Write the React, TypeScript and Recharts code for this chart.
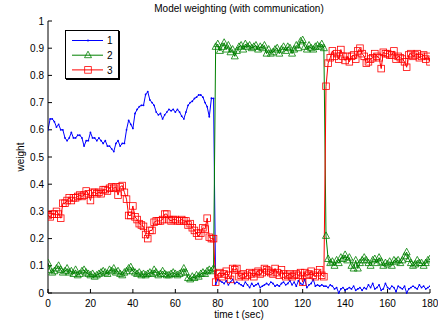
import React from 'react';
import { LineChart, Line, XAxis, YAxis, Legend } from 'recharts';

const times: number[] = Array.from({ length: 181 }, (_, i) => i);

const model1: number[] = [
  0.60, 0.64, 0.64, 0.63, 0.61, 0.62, 0.60, 0.60, 0.57, 0.56,
  0.57, 0.59, 0.57, 0.57, 0.58, 0.58, 0.57, 0.54, 0.56, 0.56,
  0.59, 0.57, 0.57, 0.56, 0.57, 0.56, 0.55, 0.56, 0.54, 0.54,
  0.53, 0.52, 0.55, 0.56, 0.54, 0.55, 0.55, 0.60, 0.635, 0.62,
  0.605, 0.66, 0.675, 0.685, 0.69, 0.69, 0.73, 0.74, 0.71, 0.70,
  0.69, 0.665, 0.655, 0.66, 0.64, 0.655, 0.665, 0.675, 0.67, 0.675,
  0.665, 0.675, 0.665, 0.65, 0.64, 0.665, 0.69, 0.70, 0.705, 0.715,
  0.72, 0.728, 0.728, 0.72, 0.70, 0.685, 0.648, 0.716, 0.715, 0.03,
  0.05, 0.045, 0.04, 0.035, 0.045, 0.03, 0.04, 0.05, 0.035, 0.04,
  0.035, 0.03, 0.025, 0.04, 0.03, 0.02, 0.035, 0.025, 0.03, 0.035,
  0.02, 0.025, 0.03, 0.035, 0.03, 0.04, 0.035, 0.025, 0.03, 0.025,
  0.035, 0.04, 0.03, 0.035, 0.045, 0.03, 0.04, 0.025, 0.045, 0.035,
  0.03, 0.05, 0.02, 0.03, 0.035, 0.05, 0.025, 0.03, 0.025, 0.03,
  0.025, 0.025, 0.02, 0.03, 0.025, 0.015, 0.02, 0.0, 0.015, 0.02,
  0.01, 0.015, 0.02, 0.015, 0.025, 0.01, 0.015, 0.02, 0.01, 0.02,
  0.015, 0.03, 0.02, 0.035, 0.015, 0.02, 0.03, 0.01, 0.015, 0.035,
  0.02, 0.015, 0.025, 0.02, 0.005, 0.025, 0.02, 0.015, 0.025, 0.0,
  0.015, 0.02, 0.025, 0.02, 0.015, 0.03, 0.02, 0.025, 0.015, 0.02,
  0.025,
];

const model2: number[] = [
  0.11, 0.085, 0.075, 0.08, 0.09, 0.10, 0.085, 0.075, 0.08, 0.09,
  0.075, 0.08, 0.07, 0.085, 0.065, 0.07, 0.08, 0.085, 0.075, 0.07,
  0.065, 0.07, 0.06, 0.065, 0.07, 0.075, 0.08, 0.075, 0.07, 0.085,
  0.08, 0.09, 0.075, 0.08, 0.07, 0.065, 0.075, 0.08, 0.09, 0.095,
  0.08, 0.075, 0.07, 0.075, 0.065, 0.07, 0.065, 0.07, 0.075, 0.07,
  0.085, 0.075, 0.065, 0.07, 0.08, 0.07, 0.065, 0.065, 0.07, 0.075,
  0.07, 0.065, 0.07, 0.075, 0.09, 0.075, 0.055, 0.05, 0.06, 0.055,
  0.065, 0.06, 0.07, 0.075, 0.07, 0.08, 0.085, 0.08, 0.09, 0.905,
  0.915, 0.89, 0.905, 0.92, 0.895, 0.91, 0.885, 0.895, 0.87, 0.89,
  0.905, 0.91, 0.895, 0.915, 0.905, 0.91, 0.90, 0.905, 0.91, 0.895,
  0.905, 0.90, 0.91, 0.88, 0.895, 0.88, 0.885, 0.895, 0.90, 0.88,
  0.895, 0.905, 0.89, 0.905, 0.90, 0.88, 0.895, 0.91, 0.90, 0.925,
  0.93, 0.905, 0.895, 0.91, 0.90, 0.895, 0.905, 0.91, 0.905, 0.915,
  0.90, 0.21, 0.125, 0.11, 0.115, 0.10, 0.12, 0.11, 0.13, 0.125,
  0.14, 0.12, 0.13, 0.10, 0.09, 0.12, 0.09, 0.11, 0.12, 0.13,
  0.12, 0.11, 0.10, 0.12, 0.125, 0.11, 0.13, 0.115, 0.10, 0.11,
  0.105, 0.115, 0.10, 0.12, 0.115, 0.12, 0.11, 0.12, 0.135, 0.15,
  0.125, 0.11, 0.10, 0.105, 0.12, 0.11, 0.11, 0.10, 0.11, 0.12,
  0.125,
];

const model3: number[] = [
  0.285, 0.28, 0.29, 0.29, 0.30, 0.29, 0.275, 0.33, 0.33, 0.34,
  0.35, 0.34, 0.35, 0.35, 0.355, 0.36, 0.355, 0.36, 0.375, 0.365,
  0.34, 0.37, 0.37, 0.365, 0.37, 0.365, 0.38, 0.38, 0.375, 0.385,
  0.39, 0.385, 0.39, 0.36, 0.39, 0.395, 0.37, 0.345, 0.285, 0.285,
  0.32, 0.28, 0.27, 0.255, 0.25, 0.245, 0.215, 0.20, 0.23, 0.23,
  0.26, 0.265, 0.265, 0.265, 0.27, 0.29, 0.29, 0.27, 0.265, 0.27,
  0.27, 0.265, 0.265, 0.27, 0.265, 0.265, 0.25, 0.255, 0.24, 0.23,
  0.22, 0.21, 0.22, 0.24, 0.235, 0.275, 0.205, 0.20, 0.20, 0.04,
  0.07, 0.075, 0.06, 0.07, 0.08, 0.065, 0.05, 0.09, 0.085, 0.09,
  0.06, 0.065, 0.07, 0.06, 0.065, 0.075, 0.07, 0.06, 0.075, 0.08,
  0.07, 0.075, 0.09, 0.085, 0.08, 0.075, 0.07, 0.09, 0.075, 0.065,
  0.085, 0.07, 0.06, 0.065, 0.07, 0.06, 0.065, 0.07, 0.065, 0.075,
  0.04, 0.075, 0.065, 0.07, 0.08, 0.065, 0.06, 0.075, 0.085, 0.065,
  0.06, 0.76, 0.845, 0.865, 0.89, 0.87, 0.88, 0.86, 0.895, 0.87,
  0.855, 0.87, 0.85, 0.87, 0.875, 0.86, 0.89, 0.90, 0.88, 0.87,
  0.845, 0.85, 0.86, 0.865, 0.88, 0.87, 0.865, 0.825, 0.885, 0.88,
  0.88, 0.875, 0.875, 0.89, 0.86, 0.87, 0.865, 0.86, 0.85, 0.83,
  0.875, 0.88, 0.87, 0.875, 0.88, 0.865, 0.87, 0.875, 0.86, 0.87,
  0.85,
];

const seriesNames: string[] = ['1', '2', '3'];
const xTicks: number[] = [0, 20, 40, 60, 80, 100, 120, 140, 160, 180];
const yTicks: number[] = [0, 0.1, 0.2, 0.3, 0.4, 0.5, 0.6, 0.7, 0.8, 0.9, 1];

const data = times.map((t, i) => ({ t, m1: model1[i], m2: model2[i], m3: model3[i] }));

const BLUE = '#0000ff';
const GREEN = '#008000';
const RED = '#ff0000';
const FONT = '"Liberation Sans", Arial, Helvetica, sans-serif';

const triPath = (cx: number, cy: number) =>
  `M${cx - 3.5},${cy + 2.5}L${cx + 3.5},${cy + 2.5}L${cx},${cy - 4}Z`;

const Tri = (props: any) => {
  const { cx, cy, index } = props;
  if (cx == null || cy == null) return <g key={`t${index}`} />;
  return <path key={`t${index}`} d={triPath(cx, cy)} fill="none" stroke={GREEN} strokeWidth={0.8} />;
};

const Sq = (props: any) => {
  const { cx, cy, index } = props;
  if (cx == null || cy == null) return <g key={`s${index}`} />;
  return <rect key={`s${index}`} x={cx - 3.3} y={cy - 3.3} width={6.6} height={6.6} fill="none" stroke={RED} strokeWidth={0.8} />;
};

const Pt = (props: any) => {
  const { cx, cy, index } = props;
  if (cx == null || cy == null) return <g key={`p${index}`} />;
  return <circle key={`p${index}`} cx={cx} cy={cy} r={0.9} fill={BLUE} />;
};

const LegendBox = () => {
  const rows = [
    { name: seriesNames[0], color: BLUE, kind: 'pt' },
    { name: seriesNames[1], color: GREEN, kind: 'tri' },
    { name: seriesNames[2], color: RED, kind: 'sq' },
  ];
  return (
    <div style={{ border: '1px solid #000', boxShadow: '1px 1px 0 #000', background: '#fff', width: 52, height: 47 }}>
      <svg width={52} height={47} style={{ display: 'block' }}>
        {rows.map((r, i) => {
          const y = 9.5 + i * 14.7;
          return (
            <g key={r.name}>
              <line x1={6} x2={37} y1={y} y2={y} stroke={r.color} strokeWidth={1} />
              {r.kind === 'pt' && <circle cx={22} cy={y} r={1} fill={r.color} />}
              {r.kind === 'tri' && <path d={triPath(22, y)} fill="none" stroke={r.color} strokeWidth={0.8} />}
              {r.kind === 'sq' && <rect x={18.7} y={y - 3.3} width={6.6} height={6.6} fill="none" stroke={r.color} strokeWidth={0.8} />}
              <text x={41} y={y + 3.6} fontSize={10} fontFamily={FONT} fill="#000">{r.name}</text>
            </g>
          );
        })}
      </svg>
    </div>
  );
};

const fmtY = (v: number) => (v === 0 ? '0' : v === 1 ? '1' : v.toFixed(1));

export default function App() {
  return (
    <div style={{ position: 'absolute', left: 0, top: 0, width: 438, height: 322, background: '#fff' }}>
      <LineChart
        width={438}
        height={322}
        data={data}
        margin={{ top: 21, right: 8, bottom: 0, left: 0 }}
        style={{ fontFamily: FONT }}
      >
        <XAxis
          xAxisId="bottom"
          dataKey="t"
          type="number"
          domain={[0, 180]}
          ticks={xTicks}
          height={29}
          stroke="#000"
          tickSize={-4}
          tickMargin={11}
          tick={{ fill: '#000', fontSize: 10 }}
          interval={0}
          allowDataOverflow
        />
        <XAxis
          xAxisId="top"
          orientation="top"
          dataKey="t"
          type="number"
          domain={[0, 180]}
          ticks={xTicks}
          height={0}
          stroke="#000"
          tickSize={-4}
          tickFormatter={() => ''}
          interval={0}
        />
        <YAxis
          yAxisId="left"
          type="number"
          domain={[0, 1]}
          ticks={yTicks}
          width={48}
          stroke="#000"
          tickSize={-4}
          tickMargin={8}
          tickFormatter={fmtY}
          tick={{ fill: '#000', fontSize: 10 }}
          interval={0}
        />
        <YAxis
          yAxisId="right"
          orientation="right"
          type="number"
          domain={[0, 1]}
          ticks={yTicks}
          width={0}
          stroke="#000"
          tickSize={-4}
          tickFormatter={() => ''}
          interval={0}
        />
        <Line xAxisId="bottom" yAxisId="left" type="linear" dataKey="m1" name={seriesNames[0]} stroke={BLUE} strokeWidth={1} dot={Pt} isAnimationActive={false} />
        <Line xAxisId="bottom" yAxisId="left" type="linear" dataKey="m2" name={seriesNames[1]} stroke={GREEN} strokeWidth={1} dot={Tri} isAnimationActive={false} />
        <Line xAxisId="bottom" yAxisId="left" type="linear" dataKey="m3" name={seriesNames[2]} stroke={RED} strokeWidth={1} dot={Sq} isAnimationActive={false} />
        <Legend
          layout="horizontal"
          verticalAlign="middle"
          align="center"
          content={<LegendBox />}
          wrapperStyle={{ left: 65, top: 30, width: 54, height: 49, bottom: 'auto' }}
        />
        <text x={239} y={12} textAnchor="middle" fontSize={10} fontFamily={FONT} fill="#000">
          Model weighting (with communication)
        </text>
        <text x={239} y={318} textAnchor="middle" fontSize={10} fontFamily={FONT} fill="#000">
          time t (sec)
        </text>
        <text x={24} y={157} textAnchor="middle" fontSize={10} fontFamily={FONT} fill="#000" transform="rotate(-90, 24, 157)">
          weight
        </text>
      </LineChart>
    </div>
  );
}
